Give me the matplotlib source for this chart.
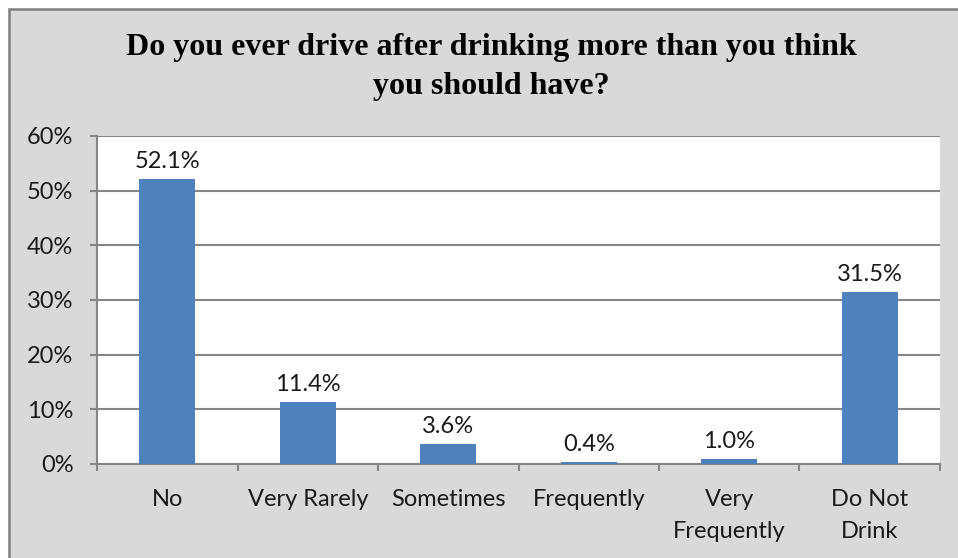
import matplotlib
matplotlib.use("Agg")
import matplotlib.pyplot as plt
from matplotlib.patches import Rectangle
from matplotlib.ticker import FuncFormatter

categories = ["No", "Very Rarely", "Sometimes", "Frequently", "Very\nFrequently", "Do Not\nDrink"]
shares = [52.1, 11.4, 3.6, 0.4, 1.0, 31.5]
yTicks = [0, 10, 20, 30, 40, 50, 60]
titleText = "Do you ever drive after drinking more than you think\nyou should have?"

figW, figH = 958, 558
fig = plt.figure(figsize=(figW / 100, figH / 100), dpi=100)
fig.patch.set_facecolor("white")

# chart area background with dark frame on top and left
fig.add_artist(Rectangle((9 / figW, -0.1), 1.1, 1 - 9 / figH + 0.1, transform=fig.transFigure,
                         facecolor="#d9d9d9", edgecolor="#7f7f7f", linewidth=1.8, zorder=-10))

ax = fig.add_axes([97 / figW, 1 - 464 / figH, (940 - 97) / figW, (464 - 136) / figH])
ax.set_facecolor("white")

positions = list(range(len(categories)))
ax.bar(positions, shares, width=0.4, color="#4f81bd", zorder=3)
for xPos, value in zip(positions, shares):
    ax.annotate(f"{value:.1f}%", (xPos, value), xytext=(0, 5), textcoords="offset points",
                ha="center", va="bottom", fontsize=17, family="Lato", color="#1a1a1a")

ax.set_xlim(-0.5, len(categories) - 0.5)
ax.set_ylim(0, 60)
ax.set_yticks(yTicks)
ax.yaxis.set_major_formatter(FuncFormatter(lambda v, p: f"{v:.0f}%"))
ax.grid(axis="y", color="#868686", linewidth=1.5, zorder=0)
ax.set_xticks([p + 0.5 for p in positions[:-1]] + [-0.5, len(categories) - 0.5])
ax.set_xticklabels([])
ax.set_xticks(positions, minor=True)
ax.set_xticklabels(categories, minor=True)
ax.tick_params(axis="x", which="minor", length=0, pad=18, labelsize=17)
ax.tick_params(axis="x", which="major", length=5, width=1.5, color="#868686")
ax.tick_params(axis="y", length=5, width=1.5, color="#868686", labelsize=17, pad=12)
for label in ax.get_xticklabels(minor=True) + ax.get_yticklabels():
    label.set_family("Lato")
    label.set_color("#1a1a1a")
    label.set_linespacing(1.65)

for side in ["top", "right"]:
    ax.spines[side].set_visible(False)
for side in ["left", "bottom"]:
    ax.spines[side].set_color("#868686")
    ax.spines[side].set_linewidth(1.5)

fig.text(491 / figW, 1 - 67 / figH, titleText, ha="center", va="center", fontsize=23,
         fontweight="bold", family="Liberation Serif", linespacing=1.42)

fig.savefig("out.png", dpi=100)
